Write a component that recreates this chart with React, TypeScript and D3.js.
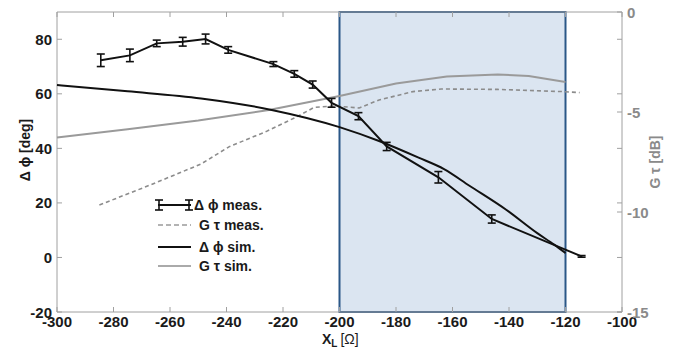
import { useRef, useEffect } from 'react';
import * as d3 from 'd3';

// Δφ measured (deg) with error half-widths
const measX = [-284.5, -274.2, -264.7, -255.5, -247.4, -239.4, -223.4, -216, -209.5, -202.8, -193.3, -183.3, -165, -146.1, -114.3];
const measPhi = [72.3, 74.1, 78.5, 79.1, 80.1, 76.1, 70.9, 67.3, 63.4, 56.7, 51.8, 40.7, 29.4, 14.1, 0.4];
const measErr = [2.3, 2.3, 1.2, 1.6, 1.8, 1.2, 0.9, 1.2, 1.3, 1.6, 1.3, 1.5, 2.1, 1.5, 0.3];

// Gτ measured (dB)
const gMeasX = [-285, -267, -249, -239, -226, -215, -209, -202, -197, -193, -186, -174, -164, -144, -121, -115];
const gMeasY = [-9.65, -8.65, -7.6, -6.73, -5.98, -5.23, -4.77, -4.7, -4.75, -4.8, -4.4, -3.98, -3.85, -3.87, -3.98, -4.03];

// Δφ simulated (deg)
const simX = [-300, -275, -249, -224, -200, -186, -172, -163, -154, -141, -130, -124, -120];
const simPhi = [63.2, 60.9, 58.3, 54.1, 47.8, 42.7, 36.6, 32.4, 26.3, 17.5, 8.9, 4.7, 1.6];

// Gτ simulated (dB)
const gSimX = [-300, -275, -250, -225, -200, -180, -162, -144, -133, -120];
const gSimY = [-6.28, -5.86, -5.43, -4.9, -4.2, -3.57, -3.23, -3.12, -3.2, -3.5];

const xTicks = [-300, -280, -260, -240, -220, -200, -180, -160, -140, -120, -100];
const yLeftTicks = [-20, 0, 20, 40, 60, 80];
const yRightTicks = [-15, -10, -5, 0];
const band = [-200, -120];

const W = 692;
const H = 349;

export default function App() {
  const svgRef = useRef<SVGSVGElement>(null);

  useEffect(() => {
    if (!svgRef.current) return;
    const svg = d3.select(svgRef.current);
    svg.selectAll('*').remove();

    const x = d3.scaleLinear().domain([-300, -100]).range([57, 622]);
    const yL = d3.scaleLinear().domain([-20, 90]).range([312, 12]);
    const yR = d3.scaleLinear().domain([-15, 0]).range([312, 12]);
    const font = 'Liberation Sans, Arial, sans-serif';
    const axisGray = '#a0a0a0';

    // Shaded band
    svg.append('rect')
      .attr('x', x(band[0]))
      .attr('y', yL(90))
      .attr('width', x(band[1]) - x(band[0]))
      .attr('height', yL(-20) - yL(90))
      .attr('fill', '#dbe5f1')
      .attr('stroke', '#2a5787')
      .attr('stroke-width', 2);

    // Frame
    const frame = svg.append('g').attr('stroke', axisGray).attr('stroke-width', 1).attr('fill', 'none');
    frame.append('line').attr('x1', 57).attr('x2', 622).attr('y1', 312).attr('y2', 312);
    frame.append('line').attr('x1', 57).attr('x2', 622).attr('y1', 12).attr('y2', 12);
    frame.append('line').attr('x1', 57).attr('x2', 57).attr('y1', 12).attr('y2', 312);
    frame.append('line').attr('x1', 622).attr('x2', 622).attr('y1', 12).attr('y2', 312);

    xTicks.forEach((t) => {
      frame.append('line').attr('x1', x(t)).attr('x2', x(t)).attr('y1', 312).attr('y2', 307);
      frame.append('line').attr('x1', x(t)).attr('x2', x(t)).attr('y1', 12).attr('y2', 17);
    });
    yLeftTicks.forEach((t) => {
      frame.append('line').attr('x1', 57).attr('x2', 62).attr('y1', yL(t)).attr('y2', yL(t));
      frame.append('line').attr('x1', 622).attr('x2', 617).attr('y1', yL(t)).attr('y2', yL(t));
    });
    yRightTicks.forEach((t) => {
      frame.append('line').attr('x1', 622).attr('x2', 617).attr('y1', yR(t)).attr('y2', yR(t));
    });

    // Tick labels
    const labels = svg.append('g').attr('font-family', font).attr('font-weight', 'bold').attr('font-size', 15);
    xTicks.forEach((t) => {
      labels.append('text').attr('x', x(t)).attr('y', 327).attr('text-anchor', 'middle')
        .attr('fill', '#1a1a1a').text(t);
    });
    yLeftTicks.forEach((t) => {
      labels.append('text').attr('x', 52).attr('y', yL(t)).attr('text-anchor', 'end')
        .attr('dominant-baseline', 'central').attr('fill', '#1a1a1a').text(t);
    });
    yRightTicks.forEach((t) => {
      labels.append('text').attr('x', 627).attr('y', yR(t)).attr('text-anchor', 'start')
        .attr('dominant-baseline', 'central').attr('fill', '#8a8a8a').text(t);
    });

    // Axis titles
    svg.append('text')
      .attr('transform', `translate(25,150) rotate(-90)`)
      .attr('text-anchor', 'middle').attr('dominant-baseline', 'central')
      .attr('font-family', font).attr('font-weight', 'bold').attr('font-size', 14)
      .attr('fill', '#1a1a1a')
      .text('Δ ϕ [deg]');
    svg.append('text')
      .attr('transform', `translate(655,162) rotate(-90)`)
      .attr('text-anchor', 'middle').attr('dominant-baseline', 'central')
      .attr('font-family', font).attr('font-weight', 'bold').attr('font-size', 14)
      .attr('fill', '#8a8a8a')
      .text('G τ [dB]');
    const xl = svg.append('text')
      .attr('x', 322).attr('y', 344)
      .attr('font-family', font).attr('font-weight', 'bold').attr('font-size', 14)
      .attr('fill', '#1a1a1a');
    xl.append('tspan').text('X');
    xl.append('tspan').attr('font-size', 10).attr('dy', 3).text('L');
    xl.append('tspan').attr('dy', -3).attr('dx', 3).attr('font-weight', 'normal').text('[Ω]');

    const line = (yScale: d3.ScaleLinear<number, number>) =>
      d3.line<[number, number]>().x((d) => x(d[0])).y((d) => yScale(d[1]));

    // Gτ sim
    svg.append('path')
      .attr('d', line(yR)(gSimX.map((v, i) => [v, gSimY[i]]))!)
      .attr('fill', 'none').attr('stroke', '#9a9a9a').attr('stroke-width', 2);

    // Gτ meas
    svg.append('path')
      .attr('d', line(yR)(gMeasX.map((v, i) => [v, gMeasY[i]]))!)
      .attr('fill', 'none').attr('stroke', '#8c8c8c').attr('stroke-width', 1.6)
      .attr('stroke-dasharray', '4,3');

    // Δφ sim
    svg.append('path')
      .attr('d', d3.line<[number, number]>().curve(d3.curveMonotoneX)
        .x((d) => x(d[0])).y((d) => yL(d[1]))(simX.map((v, i) => [v, simPhi[i]]))!)
      .attr('fill', 'none').attr('stroke', '#111').attr('stroke-width', 2);

    // Δφ meas
    svg.append('path')
      .attr('d', line(yL)(measX.map((v, i) => [v, measPhi[i]]))!)
      .attr('fill', 'none').attr('stroke', '#111').attr('stroke-width', 2);

    const bars = svg.append('g').attr('stroke', '#111').attr('stroke-width', 1.6);
    measX.forEach((v, i) => {
      const cx = x(v);
      const top = yL(measPhi[i] + measErr[i]);
      const bot = yL(measPhi[i] - measErr[i]);
      bars.append('line').attr('x1', cx).attr('x2', cx).attr('y1', top).attr('y2', bot);
      bars.append('line').attr('x1', cx - 4).attr('x2', cx + 4).attr('y1', top).attr('y2', top);
      bars.append('line').attr('x1', cx - 4).attr('x2', cx + 4).attr('y1', bot).attr('y2', bot);
    });

    // Legend
    const legend = [
      { label: 'Δ ϕ meas.', color: '#111', dash: null, width: 2, err: true },
      { label: 'G τ meas.', color: '#9a9a9a', dash: '5,3', width: 1.6, err: false },
      { label: 'Δ ϕ sim.', color: '#111', dash: null, width: 2, err: false },
      { label: 'G τ sim.', color: '#aaaaaa', dash: null, width: 2, err: false },
    ];
    const rowY = [205, 225, 247, 266];
    const lg = svg.append('g');
    legend.forEach((item, i) => {
      const yy = rowY[i];
      lg.append('line').attr('x1', 158).attr('x2', 191).attr('y1', yy).attr('y2', yy)
        .attr('stroke', item.color).attr('stroke-width', item.width)
        .attr('stroke-dasharray', item.dash);
      if (item.err) {
        [159, 189].forEach((bx) => {
          lg.append('line').attr('x1', bx).attr('x2', bx).attr('y1', yy - 5).attr('y2', yy + 5)
            .attr('stroke', '#111').attr('stroke-width', 1.6);
          lg.append('line').attr('x1', bx - 4).attr('x2', bx + 4).attr('y1', yy - 5).attr('y2', yy - 5)
            .attr('stroke', '#111').attr('stroke-width', 1.6);
          lg.append('line').attr('x1', bx - 4).attr('x2', bx + 4).attr('y1', yy + 5).attr('y2', yy + 5)
            .attr('stroke', '#111').attr('stroke-width', 1.6);
        });
      }
      lg.append('text').attr('x', i === 0 ? 194 : 199).attr('y', yy)
        .attr('dominant-baseline', 'central')
        .attr('font-family', font).attr('font-weight', 'bold').attr('font-size', 14)
        .attr('fill', '#1a1a1a').text(item.label);
    });
  }, []);

  return (
    <svg
      ref={svgRef}
      width={W}
      height={H}
      style={{ position: 'absolute', left: 0, top: 0, background: '#fff' }}
    />
  );
}
